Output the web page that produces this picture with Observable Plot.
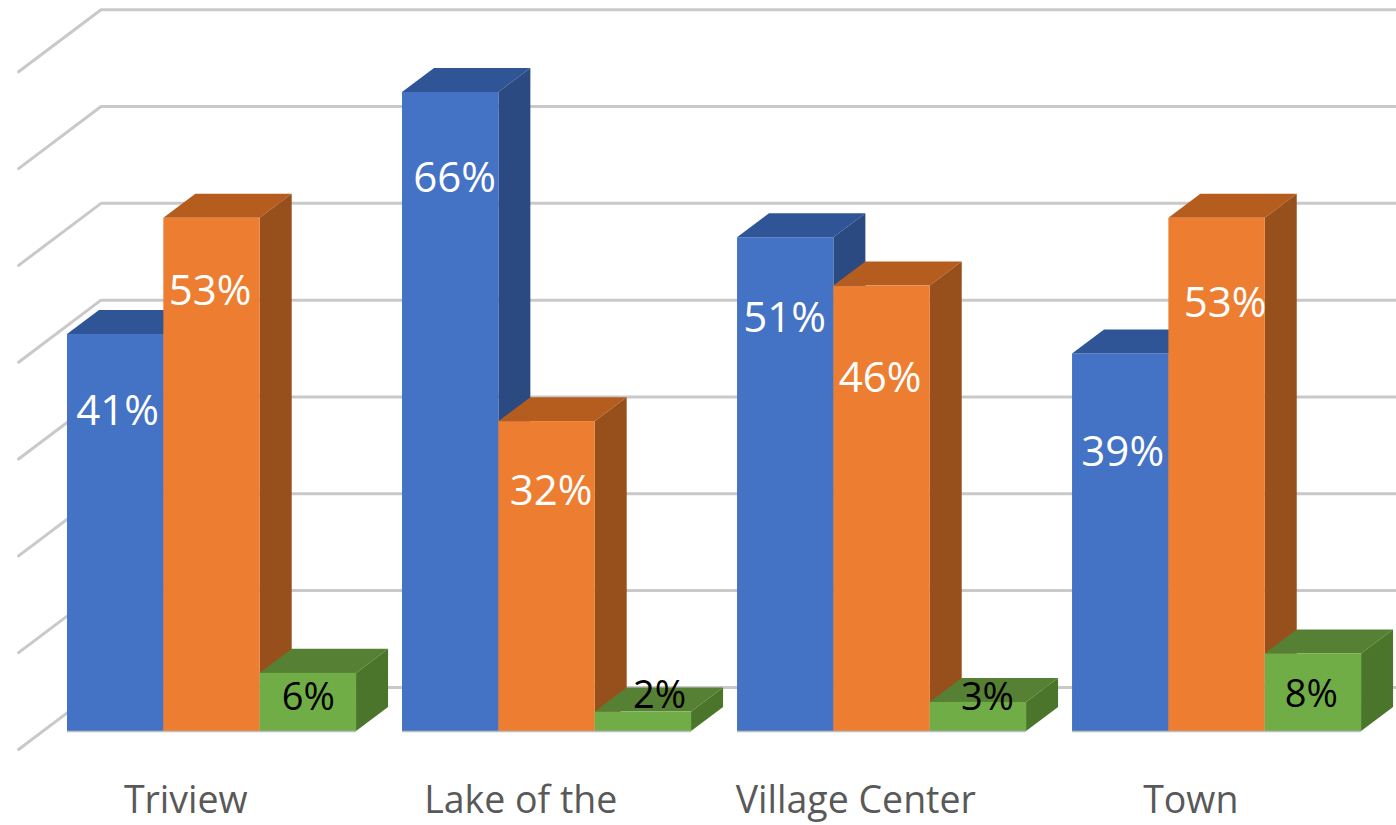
<!DOCTYPE html>
<html>
<head>
<meta charset="utf-8">
<script src="https://cdn.jsdelivr.net/npm/d3@7"></script>
<script src="https://cdn.jsdelivr.net/npm/@observablehq/plot@0.6"></script>
<style>html,body{margin:0;padding:0;background:#fff;overflow:hidden}svg{display:block}</style>
</head>
<body>
<div id="chart"></div>
<script>
const categories = ["Triview", "Lake of the", "Village Center", "Town"];
const seriesBlue = [41, 66, 51, 39];
const seriesOrange = [53, 32, 46, 53];
const seriesGreen = [6, 2, 3, 8];
const gridTicks = [0, 10, 20, 30, 40, 50, 60, 70];

// Geometry of the fake 3D, in scale units (x: one group = 1, y: percent)
const barW = 0.2876, depthX = 0.0955, depthY = 2.48, labelCenter = 0.353;
const wallFrontX = -0.146, wallBackX = 0.1, wallEndX = 3.967, wallFrontY = -1.86, wallBackY = 4.55;
const faces = [
  {values: seriesBlue, front: "#4472C4", side: "#2B4A82", top: "#2F5597", text: "#fff", size: 42,
   labelAt: [33.0, 57.1, 42.6, 28.8], nudge: [0.006, 0.012, -0.003, 0.006]},
  {values: seriesOrange, front: "#ED7D31", side: "#97501B", top: "#B55D1F", text: "#fff", size: 42,
   labelAt: [45.4, 24.8, 36.5, 44.2], nudge: [-0.006, 0.012, -0.006, 0.024]},
  {values: seriesGreen, front: "#70AD47", side: "#4A752B", top: "#568034", text: "#000", size: 38,
   labelAt: [3.5, 3.7, 3.5, 3.8], nudge: [0, 0.048, 0.027, -0.006]}
];

const grid = gridTicks.flatMap(t => [
  {t, x: wallFrontX, y: t + wallFrontY},
  {t, x: wallBackX, y: t + wallBackY},
  {t, x: wallEndX, y: t + wallBackY}
]);

const marks = [
  Plot.line(grid, {x: "x", y: "y", z: "t", stroke: "#c9c9c9", strokeWidth: 3, curve: "linear"})
];

faces.forEach((f, s) => {
  const bars = f.values.map((v, g) => ({v, g, x1: g + s * barW, x2: g + (s + 1) * barW}));
  const top = bars.flatMap(b => [
    {g: b.g, y: b.v, x1: b.x1, x2: b.x2},
    {g: b.g, y: b.v + depthY, x1: b.x1 + depthX, x2: b.x2 + depthX}
  ]);
  const side = bars.flatMap(b => [
    {g: b.g, x: b.x2, y1: 0, y2: b.v},
    {g: b.g, x: b.x2 + depthX, y1: depthY, y2: b.v + depthY}
  ]);
  marks.push(
    Plot.areaX(top, {y: "y", x1: "x1", x2: "x2", z: "g", fill: f.top, curve: "linear"}),
    Plot.areaY(side, {x: "x", y1: "y1", y2: "y2", z: "g", fill: f.side, curve: "linear"}),
    Plot.rect(bars, {x1: "x1", x2: "x2", y1: 0, y2: "v", fill: f.front, inset: 0}),
    Plot.text(bars, {
      x: b => (b.x1 + b.x2) / 2 + f.nudge[b.g],
      y: b => f.labelAt[b.g],
      text: b => b.v + "%",
      fill: f.text, fontSize: f.size
    })
  );
});

// thin grey base edge under each group
marks.push(Plot.ruleY(categories.map((c, g) => g), {
  x1: g => g, x2: g => g + 3 * barW, y: 0, stroke: "#bdbdbd", strokeWidth: 1.5
}));

marks.push(Plot.axisX({
  ticks: categories.map((c, g) => g + labelCenter),
  tickFormat: x => categories[Math.round(x - labelCenter)],
  tickSize: 0, tickPadding: 1, fontSize: 37.5, color: "#595959", label: null, anchor: "bottom"
}));

const chart = Plot.plot({
  width: 1396, height: 825,
  marginLeft: 0, marginRight: 0, marginTop: 0, marginBottom: 40,
  style: {fontFamily: "'Open Sans', sans-serif", background: "#fff", overflow: "hidden"},
  x: {type: "linear", domain: [-0.2, 3.967], range: [0, 1396], axis: null},
  y: {type: "linear", domain: [-5.58, 75.5], range: [785, 0], axis: null},
  marks
});
document.getElementById("chart").appendChild(chart);
</script>
</body>
</html>
